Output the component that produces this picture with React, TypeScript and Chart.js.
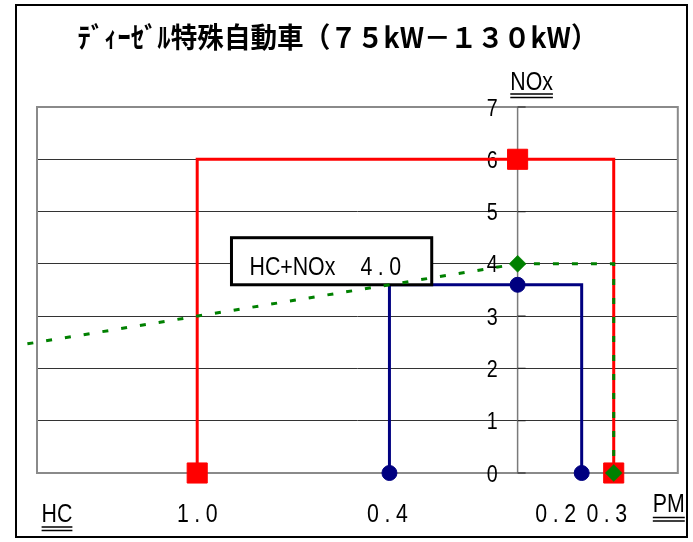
import React, { useEffect, useRef } from 'react';
import { Chart, registerables } from 'chart.js';

Chart.register(...registerables);

// x axis is signed: negative values are HC (left side), positive are PM (right side)
const xTickValues = [-1.0, -0.4, 0.2, 0.3];
const xTickLabels = ['1.0', '0.4', '0.2', '0.3'];
const yTickValues = [0, 1, 2, 3, 4, 5, 6, 7];
const yTickLabels = ['0', '1', '2', '3', '4', '5', '6', '7'];

const redLineX = [-1.0, -1.0, 0.3, 0.3];
const redLineY = [0, 6, 6, 0];
const blueLineX = [-0.4, -0.4, 0.2, 0.2];
const blueLineY = [0, 3.6, 3.6, 0];
const greenLineX = [-1.53, 0, 0.3, 0.3];
const greenLineY = [2.47, 4, 4, 0];

const redPointX = [-1.0, 0, 0.3];
const redPointY = [0, 6, 0];
const bluePointX = [-0.4, 0, 0.2];
const bluePointY = [0, 3.6, 0];
const greenPointX = [0, 0.3];
const greenPointY = [4, 0];

const titleText = 'ﾃﾞｨｰｾﾞﾙ特殊自動車（７５kW－１３０kW）';
const boxLabel = 'HC+NOx';
const boxValue = '4.0';

const zip = (xs: number[], ys: number[]) => xs.map((x, i) => ({ x, y: ys[i] }));

const FONT = '"Liberation Sans Narrow", "Arial Narrow", "Liberation Sans", Arial, sans-serif';
const SX = 0.82; // horizontal condensing to mimic a narrow face

const BLUE_LINE_INDEX = 1;

function drawText(
  ctx: CanvasRenderingContext2D,
  text: string,
  x: number,
  y: number,
  align: 'left' | 'center' | 'right',
  spacing = 0,
  sx = SX
) {
  ctx.save();
  (ctx as any).letterSpacing = spacing / sx + 'px';
  ctx.textAlign = 'left';
  const w = (ctx.measureText(text).width - spacing / sx) * sx;
  const left = align === 'left' ? x : align === 'center' ? x - w / 2 : x - w;
  ctx.translate(left, y);
  ctx.scale(sx, 1);
  ctx.fillText(text, 0, 0);
  ctx.restore();
  return w;
}

function doubleUnderline(ctx: CanvasRenderingContext2D, x1: number, x2: number, y: number) {
  ctx.save();
  ctx.strokeStyle = '#000';
  ctx.lineWidth = 1.5;
  ctx.beginPath();
  ctx.moveTo(x1, y);
  ctx.lineTo(x2, y);
  ctx.moveTo(x1, y + 3.5);
  ctx.lineTo(x2, y + 3.5);
  ctx.stroke();
  ctx.restore();
}

const decorPlugin = {
  id: 'decor',
  beforeDatasetsDraw(chart: any) {
    const { ctx, chartArea: a, scales } = chart;
    const x = scales.x;
    const y = scales.y;
    ctx.save();
    ctx.strokeStyle = '#8a8a8a';
    ctx.lineWidth = 2;
    ctx.strokeRect(a.left, a.top, a.right - a.left, a.bottom - a.top);
    const x0 = x.getPixelForValue(0);
    ctx.strokeStyle = '#7a7a7a';
    ctx.lineWidth = 1.5;
    ctx.beginPath();
    ctx.moveTo(x0, a.top);
    ctx.lineTo(x0, a.bottom);
    ctx.stroke();
    ctx.strokeStyle = '#222';
    ctx.lineWidth = 1.2;
    ctx.beginPath();
    yTickValues.forEach((v) => {
      const py = y.getPixelForValue(v);
      ctx.moveTo(x0, py);
      ctx.lineTo(x0 + 8, py);
    });
    ctx.stroke();
    ctx.fillStyle = '#000';
    ctx.font = '24px ' + FONT;
    ctx.textBaseline = 'middle';
    yTickValues.forEach((v, i) => {
      drawText(ctx, yTickLabels[i], x0 - 20, y.getPixelForValue(v) + 2, 'right');
    });
    ctx.restore();
  },
  afterDatasetDraw(chart: any, args: any) {
    if (args.index !== BLUE_LINE_INDEX) return;
    const { ctx, scales } = chart;
    const x = scales.x;
    const y = scales.y;
    const l = x.getPixelForValue(-0.893);
    const r = x.getPixelForValue(-0.268);
    const t = y.getPixelForValue(4.5);
    const b = y.getPixelForValue(3.6);
    ctx.save();
    ctx.fillStyle = '#fff';
    ctx.fillRect(l, t, r - l, b - t);
    ctx.strokeStyle = '#000';
    ctx.lineWidth = 3;
    ctx.strokeRect(l, t, r - l, b - t);
    ctx.fillStyle = '#000';
    ctx.font = '26px ' + FONT;
    ctx.textBaseline = 'alphabetic';
    drawText(ctx, boxLabel, l + 18, b - 10, 'left');
    drawText(ctx, boxValue, l + 129, b - 10, 'left', 5.5);
    ctx.restore();
  },
  afterDraw(chart: any) {
    const { ctx, chartArea: a, scales } = chart;
    const x = scales.x;
    const x0 = x.getPixelForValue(0);
    ctx.save();
    ctx.fillStyle = '#000';
    ctx.textBaseline = 'alphabetic';
    ctx.font = '26px ' + FONT;
    const nudge = [0, -2, -26, -7];
    xTickValues.forEach((v, i) => {
      drawText(ctx, xTickLabels[i], x.getPixelForValue(v) + nudge[i], a.bottom + 49, 'center', 5.5);
    });
    ctx.font = '26px ' + FONT;
    const noxC = x0 + 14;
    const noxW = drawText(ctx, 'NOx', noxC, a.top - 17, 'center');
    doubleUnderline(ctx, noxC - noxW / 2, noxC + noxW / 2, a.top - 13);
    const hcC = a.left + 20;
    const hcW = drawText(ctx, 'HC', hcC, a.bottom + 49, 'center');
    doubleUnderline(ctx, hcC - hcW / 2, hcC + hcW / 2, a.bottom + 54);
    const pmC = a.right - 9;
    const pmW = drawText(ctx, 'PM', pmC, a.bottom + 39, 'center');
    doubleUnderline(ctx, pmC - pmW / 2, pmC + pmW / 2, a.bottom + 44.5);
    ctx.font = 'bold 28px "Noto Sans CJK JP", sans-serif';
    ctx.textAlign = 'center';
    ctx.textBaseline = 'middle';
    ctx.fillText(titleText, 337.5, 37, 520);
    ctx.strokeStyle = '#000';
    ctx.lineWidth = 2;
    ctx.strokeRect(16, 5, 671, 532);
    ctx.restore();
  },
};

export default function App() {
  const ref = useRef<HTMLCanvasElement | null>(null);
  useEffect(() => {
    if (!ref.current) return;
    const lineBase = { showLine: true, pointRadius: 0, borderWidth: 3, fill: false, tension: 0 };
    const chart = new Chart(ref.current, {
      type: 'scatter',
      data: {
        datasets: [
          { ...lineBase, label: 'redLine', data: zip(redLineX, redLineY), borderColor: '#ff0000', order: 6 },
          { ...lineBase, label: 'blueLine', data: zip(blueLineX, blueLineY), borderColor: '#000080', order: 5 },
          {
            ...lineBase,
            label: 'greenLine',
            data: zip(greenLineX, greenLineY),
            borderColor: '#008000',
            borderDash: [6, 13],
            clip: false,
            order: 4,
          },
          {
            label: 'redPts',
            data: zip(redPointX, redPointY),
            pointStyle: 'rect',
            pointRadius: 14.2,
            pointBackgroundColor: '#ff0000',
            pointBorderColor: '#ff0000',
            pointBorderWidth: 1,
            clip: false,
            order: 3,
          },
          {
            label: 'bluePts',
            data: zip(bluePointX, bluePointY),
            pointStyle: 'circle',
            pointRadius: 7.5,
            pointBackgroundColor: '#000080',
            pointBorderColor: '#000080',
            pointBorderWidth: 1,
            clip: false,
            order: 2,
          },
          {
            label: 'greenPts',
            data: zip(greenPointX, greenPointY),
            pointStyle: 'rectRot',
            pointRadius: 8.5,
            pointBackgroundColor: '#008000',
            pointBorderColor: '#008000',
            pointBorderWidth: 0.5,
            clip: false,
            order: 1,
          },
        ] as any,
      },
      options: {
        animation: false,
        responsive: false,
        events: [],
        layout: { padding: { left: 37, right: 14, top: 107, bottom: 69 } },
        plugins: { legend: { display: false }, tooltip: { enabled: false }, title: { display: false } },
        scales: {
          x: { type: 'linear', min: -1.5, max: 0.5, display: false },
          y: {
            type: 'linear',
            min: 0,
            max: 7,
            display: true,
            ticks: { display: false, stepSize: 1 },
            grid: { color: '#333', lineWidth: 1, drawTicks: false },
            border: { display: false },
          },
        },
      },
      plugins: [decorPlugin],
    });
    return () => chart.destroy();
  }, []);
  return (
    <div style={{ position: 'fixed', left: 0, top: 0, width: 693, height: 542, background: '#fff' }}>
      <canvas ref={ref} width={693} height={542} style={{ display: 'block', width: 693, height: 542 }} />
    </div>
  );
}
